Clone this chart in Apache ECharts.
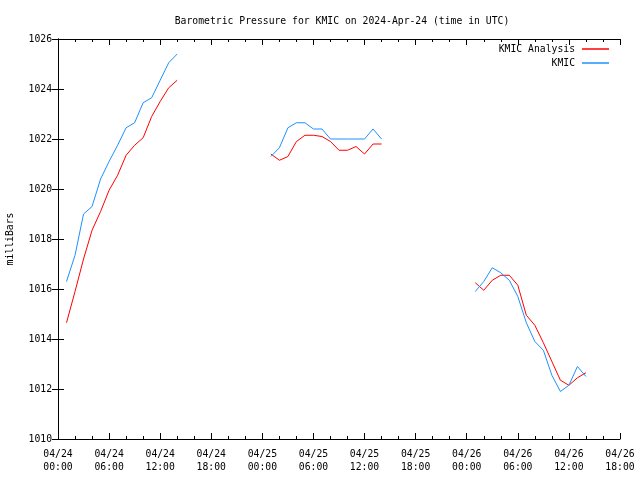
<!DOCTYPE html>
<html>
<head>
<meta charset="utf-8">
<script src="https://cdn.jsdelivr.net/npm/echarts@6/dist/echarts.min.js"></script>
<style>html,body{margin:0;padding:0;background:#fff}#c{width:640px;height:480px}</style>
</head>
<body>
<div id="c"></div>
<script>
// hours since 2024-04-24 00:00 UTC
var hours = [1,2,3,4,5,6,7,8,9,10,11,12,13,14,
             25,26,27,28,29,30,31,32,33,34,35,36,37,38,
             49,50,51,52,53,54,55,56,57,58,59,60,61,62];
var kmic = [1016.3,1017.35,1019.0,1019.3,1020.4,1021.1,1021.75,1022.45,1022.65,1023.45,1023.65,1024.35,1025.05,1025.4,
            1021.3,1021.65,1022.45,1022.65,1022.65,1022.4,1022.4,1022.0,1022.0,1022.0,1022.0,1022.0,1022.4,1022.0,
            1015.9,1016.3,1016.85,1016.65,1016.35,1015.7,1014.65,1013.9,1013.55,1012.55,1011.9,1012.15,1012.9,1012.5];
var analysis = [1014.65,1015.9,1017.2,1018.35,1019.1,1019.95,1020.55,1021.35,1021.75,1022.05,1022.9,1023.5,1024.05,1024.35,
                1021.4,1021.15,1021.3,1021.9,1022.15,1022.15,1022.1,1021.9,1021.55,1021.55,1021.7,1021.4,1021.8,1021.8,
                1016.25,1015.95,1016.35,1016.55,1016.55,1016.15,1014.95,1014.55,1013.85,1013.1,1012.35,1012.15,1012.45,1012.65];
var seriesNames = ['KMIC Analysis', 'KMIC'];
var yTicks = [1010,1012,1014,1016,1018,1020,1022,1024,1026];

function pairs(vals){
  var out = [];
  for (var i=0;i<hours.length;i++){
    if (i>0 && hours[i]-hours[i-1]>1) out.push([hours[i-1]+1, null]);
    out.push([hours[i], vals[i]]);
  }
  return out;
}
function fmt(h){
  var d = 24 + Math.floor(h/24), hh = h%24;
  return '04/' + d + '\n' + (hh<10?'0':'') + hh + ':00';
}
var FONT = 'DejaVu Sans Mono';
var chart = echarts.init(document.getElementById('c'), null, {renderer:'canvas'});
var axLine = {show:true, lineStyle:{color:'#000', width:1}};
chart.setOption({
  animation:false,
  backgroundColor:'#fff',
  title:{text:'Barometric Pressure for KMIC on 2024-Apr-24 (time in UTC)', left:337, textAlign:'center', top:11,
    textStyle:{fontFamily:FONT, fontSize:9.75, fontWeight:'normal', color:'#000'}},
  legend:[
    {data:[seriesNames[0]], right:31, top:44, align:'right', itemWidth:27, itemHeight:1.5, icon:'rect', itemGap:0, padding:0,
     textStyle:{fontFamily:FONT, fontSize:9.75, color:'#000', padding:[0,2,0,0]}},
    {data:[seriesNames[1]], right:31, top:58, align:'right', itemWidth:27, itemHeight:1.5, icon:'rect', itemGap:0, padding:0,
     textStyle:{fontFamily:FONT, fontSize:9.75, color:'#000', padding:[0,2,0,0]}}
  ],
  grid:{left:58, right:20, top:39, bottom:41, containLabel:false, outerBoundsMode:'none'},
  xAxis:[
    {type:'value', min:0, max:66, interval:6, axisLine:axLine,
     axisTick:{show:true, inside:true, length:6, lineStyle:{color:'#000'}},
     minorTick:{show:true, splitNumber:3, length:3, lineStyle:{color:'#000'}},
     splitLine:{show:false},
     axisLabel:{formatter:fmt, margin:9, lineHeight:13, fontFamily:FONT, fontSize:9.75, color:'#000'}},
    {type:'value', position:'top', min:0, max:66, interval:6, axisLine:axLine,
     axisTick:{show:true, inside:true, length:6, lineStyle:{color:'#000'}},
     minorTick:{show:true, splitNumber:3, length:3, lineStyle:{color:'#000'}},
     splitLine:{show:false}, axisLabel:{show:false}}
  ],
  yAxis:[
    {type:'value', min:yTicks[0], max:yTicks[yTicks.length-1], interval:2, axisLine:axLine,
     name:'milliBars', nameLocation:'middle', nameRotate:90, nameGap:43,
     nameTextStyle:{fontFamily:FONT, fontSize:9.75, color:'#000'},
     axisTick:{show:true, inside:true, length:6, lineStyle:{color:'#000'}},
     splitLine:{show:false},
     axisLabel:{margin:6, fontFamily:FONT, fontSize:9.75, color:'#000', formatter:function(v){return String(v);}}},
    {type:'value', position:'right', min:yTicks[0], max:yTicks[yTicks.length-1], interval:2, axisLine:axLine,
     axisTick:{show:true, inside:true, length:6, lineStyle:{color:'#000'}},
     splitLine:{show:false}, axisLabel:{show:false}}
  ],
  series:[
    {name:seriesNames[0], type:'line', data:pairs(analysis), showSymbol:false, symbol:'none',
     color:'#ff0000', lineStyle:{width:1, color:'#ff0000'}, connectNulls:false},
    {name:seriesNames[1], type:'line', data:pairs(kmic), showSymbol:false, symbol:'none',
     color:'#1e90ff', lineStyle:{width:1, color:'#1e90ff'}, connectNulls:false}
  ]
});
</script>
</body>
</html>
